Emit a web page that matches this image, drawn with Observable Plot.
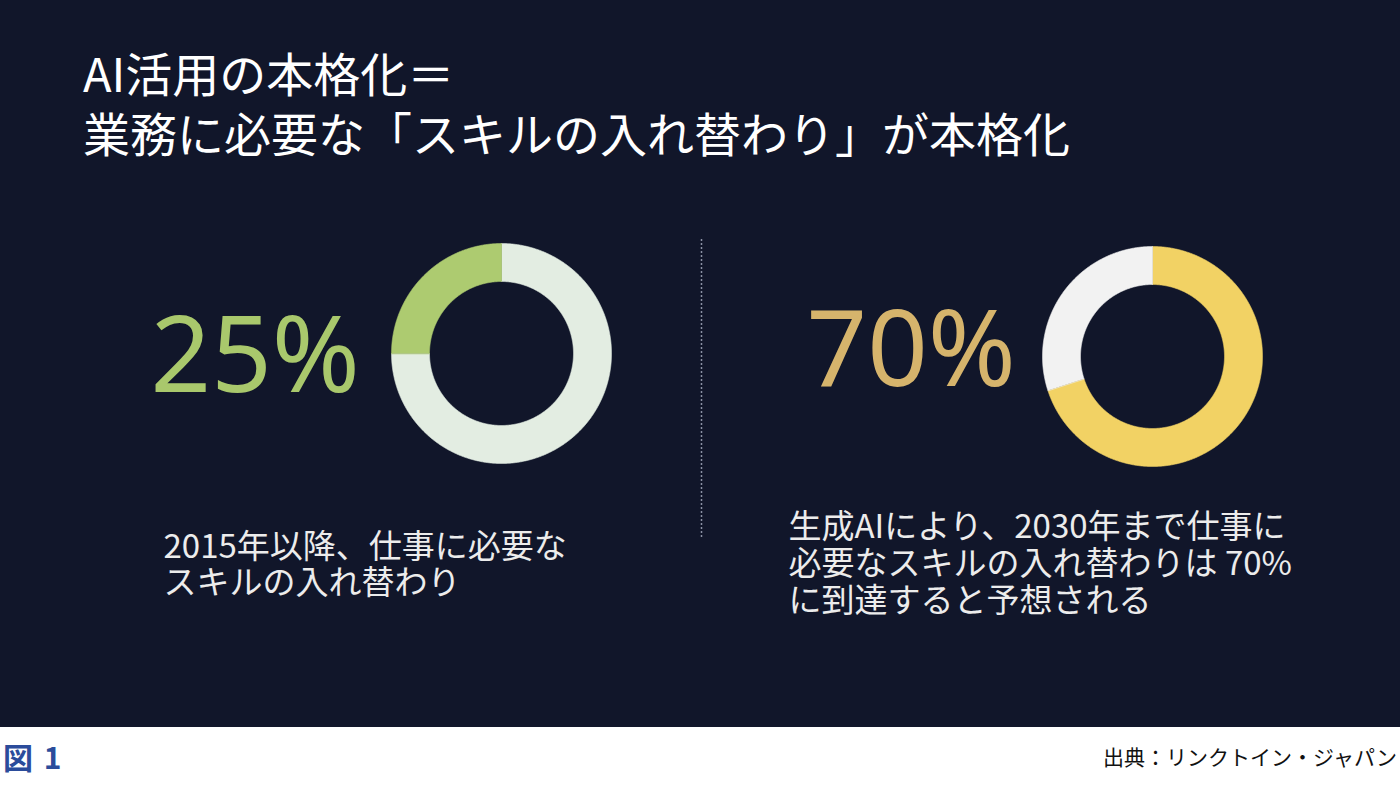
<!DOCTYPE html>
<html>
<head>
<meta charset="utf-8">
<script src="https://cdn.jsdelivr.net/npm/d3@7"></script>
<script src="https://cdn.jsdelivr.net/npm/@observablehq/plot@0.6"></script>
<style>
  html, body { margin: 0; padding: 0; }
  body { width: 1400px; height: 785px; overflow: hidden; background: #ffffff;
         font-family: "Noto Sans CJK JP", "Noto Sans", sans-serif; }
  #slide { width: 1400px; height: 727px; background: #11162a; }
  #title { margin: 0; height: 190px; box-sizing: border-box; padding: 42px 0 0 83px;
           font-size: 47px; line-height: 60px; font-weight: 400; color: #ffffff; }
  #footer { height: 58px; display: flex; justify-content: space-between; align-items: center; }
  #fig { font-size: 30px; font-weight: 700; color: #2b4c9b; padding-left: 3px; letter-spacing: 2px; }
  #source { font-size: 21px; color: #111111; padding-right: 3px; }
</style>
</head>
<body>
<div id="slide">
  <h1 id="title"></h1>
  <div id="chart"></div>
</div>
<div id="footer"><div id="fig"></div><div id="source"></div></div>
<script>
// ---- data ----
const titleLines = ["AI活用の本格化＝", "業務に必要な「スキルの入れ替わり」が本格化"];
const panels = ["left", "right"];
const shares = [25, 70];
const shareLabels = ["25%", "70%"];
const descriptions = [
  "2015年以降、仕事に必要な\nスキルの入れ替わり",
  "生成AIにより、2030年まで仕事に\n必要なスキルの入れ替わりは 70%\nに到達すると予想される"
];
const figLabel = "図 1";
const sourceLabel = "出典：リンクトイン・ジャパン";

// ---- layout / styles ----
const W = 1400, H = 537;
const R = 110, r = 72;
const layout = {
  left:  { cx: 501,  cy: 163, textX: 150, textY: 168, descX: 163, descY: 374, lh: 1.08, shareFirst: false,
           accent: "#adcb70", track: "#e3ede2", textColor: "#a9c86c" },
  right: { cx: 1152, cy: 166, textX: 806, textY: 162, descX: 788, descY: 373, lh: 1.12, shareFirst: true,
           accent: "#f2d264", track: "#f2f2f2", textColor: "#d6b46c" }
};

document.getElementById("title").innerHTML = titleLines.map(t => `<div>${t}</div>`).join("");
document.getElementById("fig").textContent = figLabel;
document.getElementById("source").textContent = sourceLabel;

const rows = panels.map((p, i) => ({ panel: p, share: shares[i], label: shareLabels[i], desc: descriptions[i] }));

// build ring slice outlines from the values
const ring = [];
const keys = [], colors = [];
for (const row of rows) {
  const L = layout[row.panel];
  const f = row.share / 100;
  const parts = L.shareFirst
    ? [["share", 0, f, L.accent], ["rest", f, 1, L.track]]
    : [["rest", 0, 1 - f, L.track], ["share", 1 - f, 1, L.accent]];
  for (const [name, s0, s1, col] of parts) {
    const key = row.panel + "-" + name;
    keys.push(key); colors.push(col);
    const a0 = s0 * 2 * Math.PI, a1 = s1 * 2 * Math.PI;
    const n = Math.max(2, Math.ceil((a1 - a0) / (Math.PI / 360)) + 1);
    for (let k = 0; k < n; k++) {
      const a = a0 + (a1 - a0) * k / (n - 1);
      ring.push({ key, x: L.cx + R * Math.sin(a), y: L.cy - R * Math.cos(a) });
    }
    for (let k = n - 1; k >= 0; k--) {
      const a = a0 + (a1 - a0) * k / (n - 1);
      ring.push({ key, x: L.cx + r * Math.sin(a), y: L.cy - r * Math.cos(a) });
    }
  }
}

const marks = [
  Plot.line(ring, { x: "x", y: "y", z: "key", fill: "key", stroke: "key", strokeWidth: 0.6, curve: "linear-closed" }),
  Plot.ruleX([701], { y1: 49, y2: 348, stroke: "#8b91a4", strokeWidth: 1.5, strokeDasharray: "2,2" })
];
for (const row of rows) {
  const L = layout[row.panel];
  marks.push(Plot.text([row], { x: () => L.textX, y: () => L.textY, text: "label", fill: L.textColor,
    fontSize: 106, fontFamily: "Noto Sans, sans-serif", fontWeight: 400, textAnchor: "start", lineAnchor: "middle" }));
  marks.push(Plot.text([row], { x: () => L.descX, y: () => L.descY, text: "desc", fill: "#ececec",
    fontSize: 33, fontFamily: "Noto Sans CJK JP, sans-serif", textAnchor: "start", lineAnchor: "middle", lineHeight: L.lh }));
}

const chart = Plot.plot({
  width: W, height: H,
  margin: 0,
  x: { domain: [0, W], range: [0, W], axis: null },
  y: { domain: [0, H], range: [0, H], axis: null },
  color: { domain: keys, range: colors },
  style: { background: "#11162a", overflow: "visible" },
  marks
});
document.getElementById("chart").appendChild(chart);
</script>
</body>
</html>
